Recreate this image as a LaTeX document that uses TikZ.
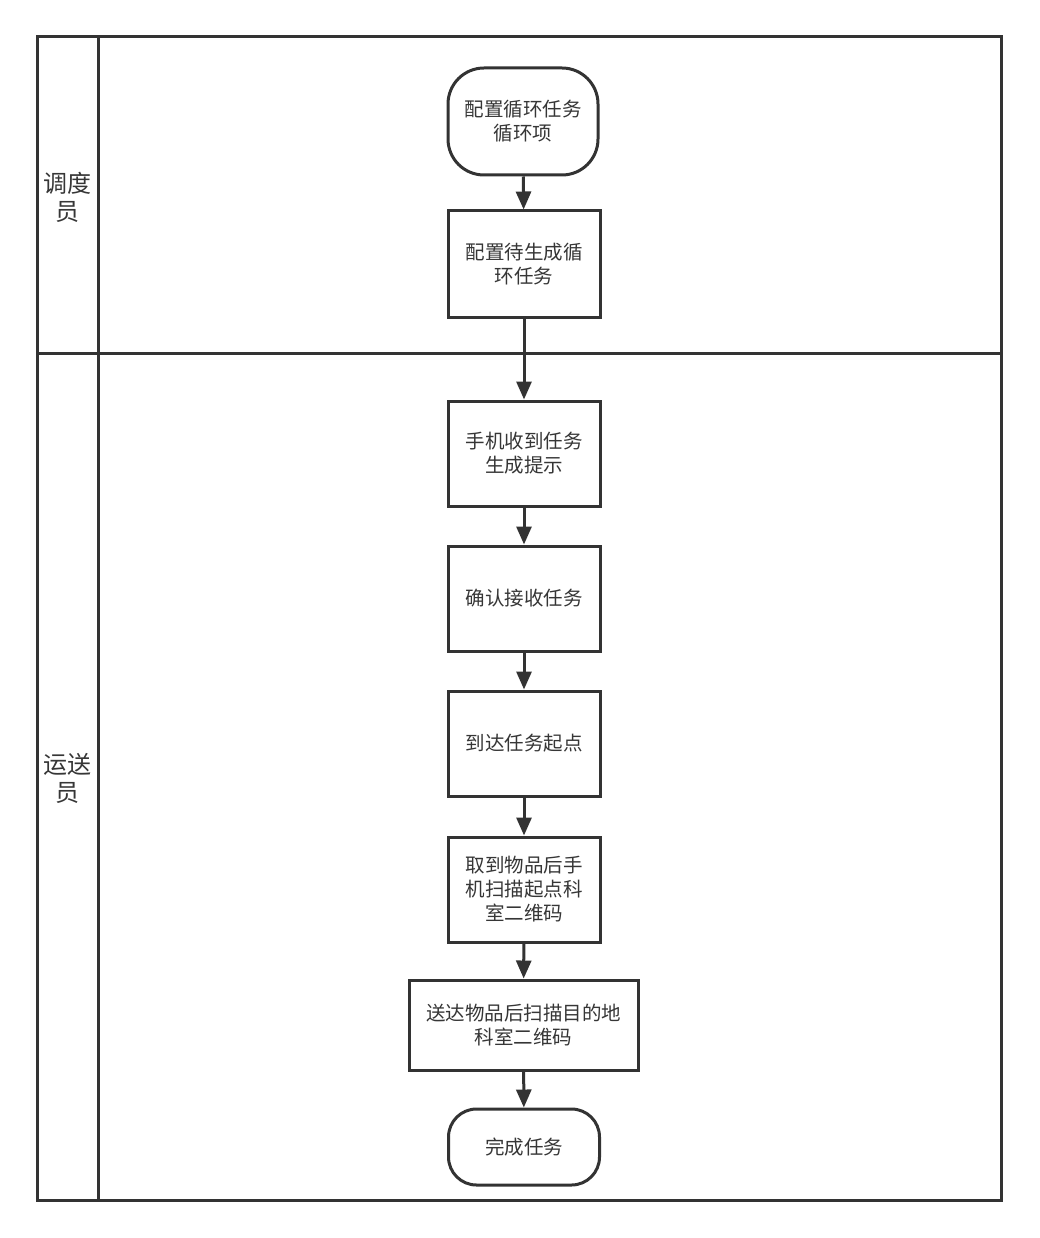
\documentclass[tikz,border=0pt]{standalone}
\usepackage{fontspec}
\newfontfamily\cjk{Noto Sans CJK SC}
\usetikzlibrary{arrows.meta}
\definecolor{ln}{HTML}{333333}
\definecolor{tx}{HTML}{363636}
\begin{document}
\begin{tikzpicture}[x=1pt,y=-1pt,
  frame/.style={draw=ln,line width=3pt},
  proc/.style={draw=ln,line width=3pt,fill=white,text=tx,align=center,font=\cjk\fontsize{19.5pt}{24pt}\selectfont,inner sep=0pt},
  term/.style={proc,rounded corners=#1},
  lanelabel/.style={text=tx,align=center,font=\cjk\fontsize{24pt}{28pt}\selectfont,inner sep=0pt},
  flow/.style={draw=ln,line width=3pt,-{Triangle[length=18pt,width=15pt]}}]
\useasboundingbox (0,0) rectangle (1039,1238);
% lanes
\draw[frame] (37,37) rectangle (1001,1200);
\draw[frame] (98,37) -- (98,1200);
\draw[frame] (37,353) -- (1001,353);
\node[lanelabel] (l1) at (67.5,197) {调度\\员};
\node[lanelabel] (l2) at (67.5,778) {运送\\员};
% nodes
\node[term=36pt,minimum width=150pt,minimum height=107pt] (n1) at (523,121.5) {配置循环任务\\循环项};
\node[proc,minimum width=152pt,minimum height=106pt] (n2) at (524,264) {配置待生成循\\环任务};
\node[proc,minimum width=152pt,minimum height=105pt] (n3) at (524,453.5) {手机收到任务\\生成提示};
\node[proc,minimum width=152pt,minimum height=105pt] (n4) at (524,598.5) {确认接收任务};
\node[proc,minimum width=152pt,minimum height=105pt] (n5) at (524,743.5) {到达任务起点};
\node[proc,minimum width=152pt,minimum height=105pt] (n6) at (524,889.5) {取到物品后手\\机扫描起点科\\室二维码};
\node[proc,minimum width=229pt,minimum height=90pt] (n7) at (523.5,1025) {送达物品后扫描目的地\\科室二维码};
\node[term=28pt,minimum width=151pt,minimum height=76pt] (n8) at (524,1147) {完成任务};
% connectors
\draw[flow] (n1) -- (n2);
\draw[flow] (n2) -- (n3);
\draw[flow] (n3) -- (n4);
\draw[flow] (n4) -- (n5);
\draw[flow] (n5) -- (n6);
\draw[flow] (n6) -- (n7);
\draw[flow] (n7) -- (n8);
\end{tikzpicture}
\end{document}
